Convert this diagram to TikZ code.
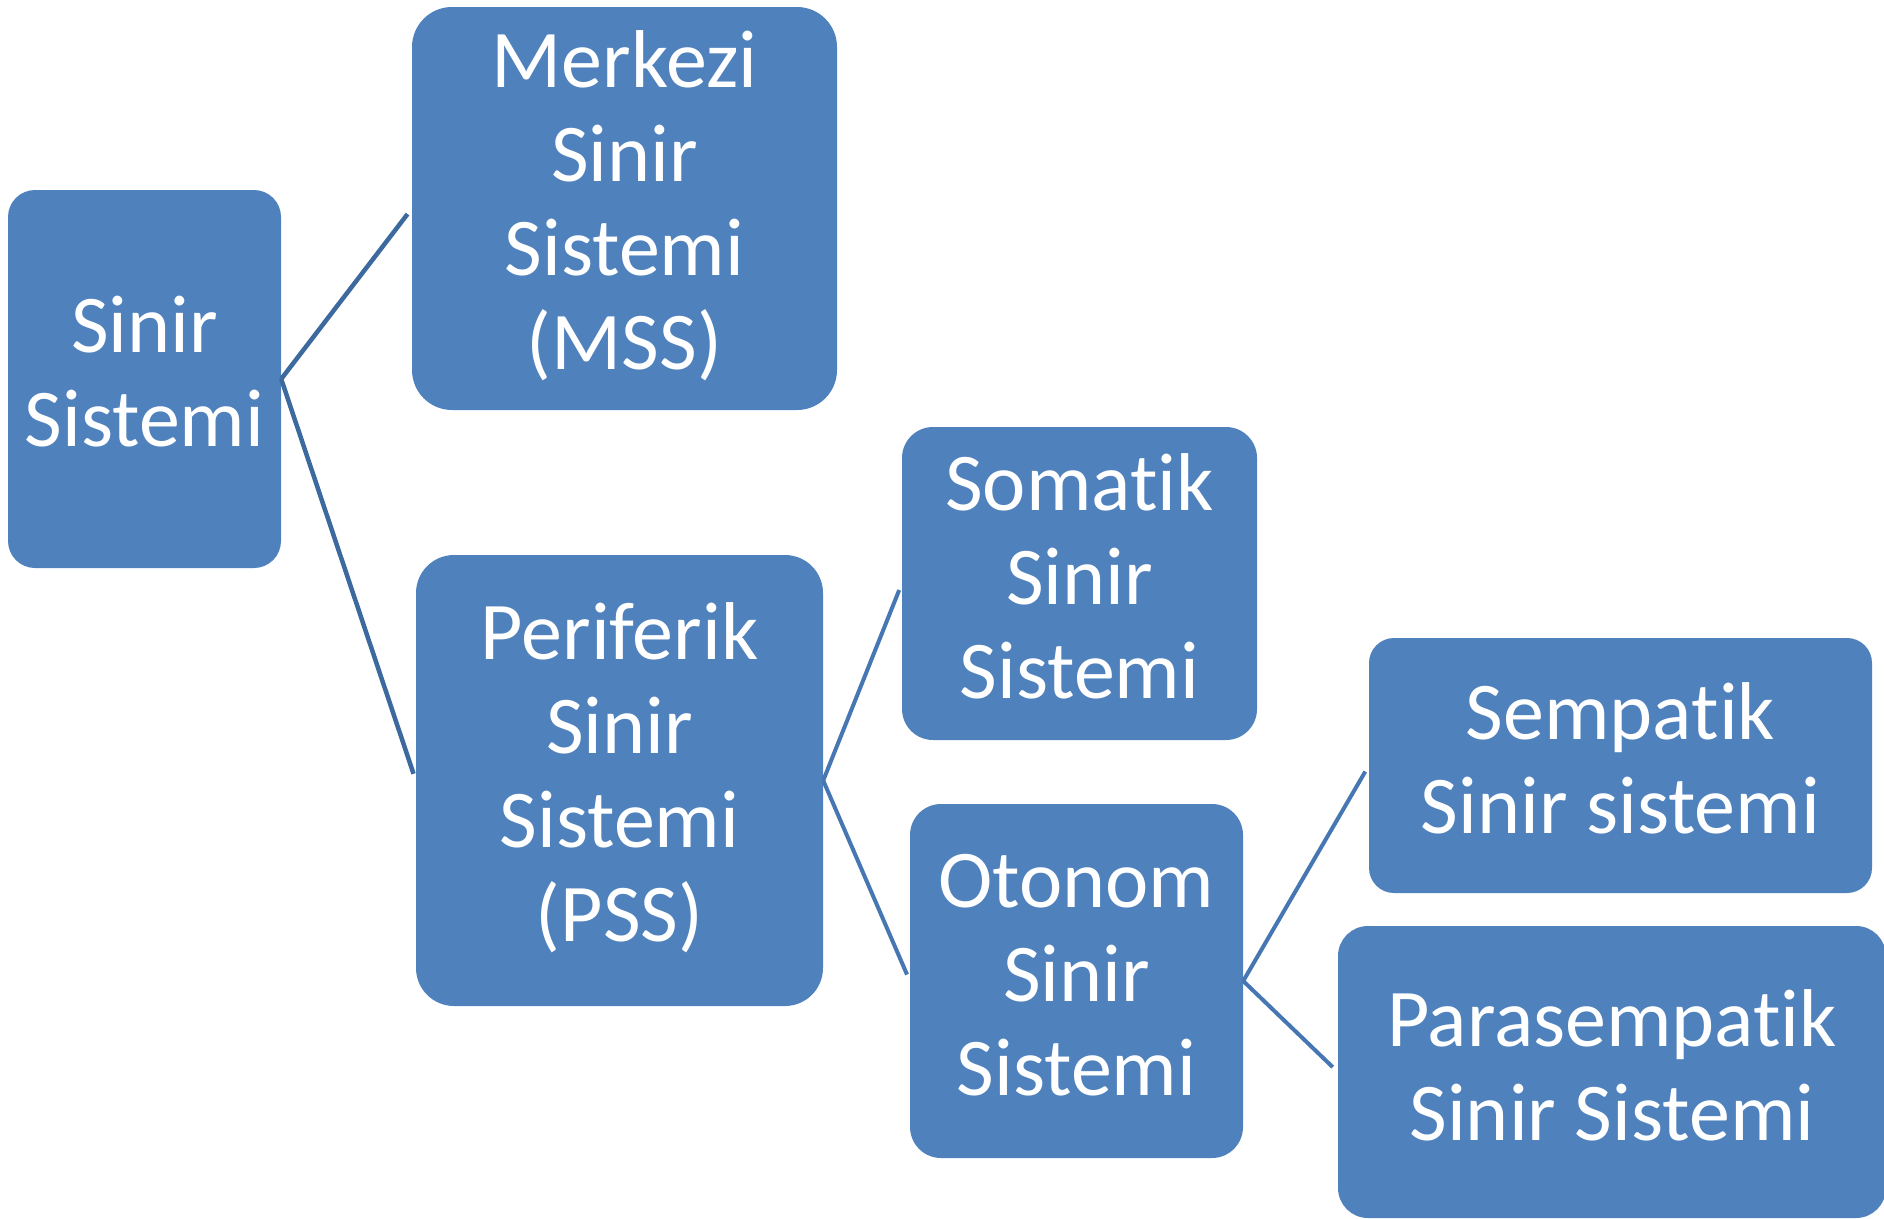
\documentclass[tikz,border=0pt]{standalone}
\usepackage{fontspec}
\setmainfont[Ligatures={NoCommon}]{Carlito}
\definecolor{boxblue}{HTML}{4F81BD}
\definecolor{lineA}{HTML}{3D6A9E}
\definecolor{lineB}{HTML}{4677B3}
\begin{document}
\begin{tikzpicture}[x=1pt,y=-1pt,
  box/.style={draw=none, fill=boxblue, inner sep=0pt},
  lbl/.style={text=white, align=center, inner sep=0pt,
    font=\fontsize{82}{94}\selectfont},
  linkA/.style={draw=lineA, line width=4.5pt, shorten >=7pt},
  linkB/.style={draw=lineB, line width=4pt, shorten >=7pt}]
\useasboundingbox (0,0) rectangle (1884,1218);
\clip (0,0) rectangle (1884,1218);
\node[box, minimum width=273pt, minimum height=378pt, rounded corners=27pt] (ss) at (144.5,379) {};
\node[box, minimum width=425pt, minimum height=403pt, rounded corners=40pt] (mss) at (624.5,208.5) {};
\node[box, minimum width=407pt, minimum height=451pt, rounded corners=38pt] (pss) at (619.5,780.5) {};
\node[box, minimum width=355pt, minimum height=313pt, rounded corners=31pt] (som) at (1079.5,583.5) {};
\node[box, minimum width=333pt, minimum height=354pt, rounded corners=31pt] (oto) at (1076.5,981) {};
\node[box, minimum width=503pt, minimum height=255pt, rounded corners=25pt] (sem) at (1620.5,765.5) {};
\node[box, minimum width=548pt, minimum height=292pt, rounded corners=30pt] (para) at (1612,1072) {};
\node[lbl] (ssT) at ([yshift=7pt]ss.center) {Sinir\\Sistemi};
\node[lbl] (mssT) at ([yshift=3pt]mss.center) {Merkezi\\Sinir\\Sistemi\\(MSS)};
\node[lbl] (pssT) at ([yshift=3pt]pss.center) {Periferik\\Sinir\\Sistemi\\(PSS)};
\node[lbl] (somT) at ([yshift=7pt]som.center) {Somatik\\Sinir\\Sistemi};
\node[lbl] (otoT) at ([yshift=6pt]oto.center) {Otonom\\Sinir\\Sistemi};
\node[lbl] (semT) at ([yshift=7pt]sem.center) {Sempatik\\Sinir sistemi};
\node[lbl] (paraT) at ([yshift=7pt]para.center) {Parasempatik\\Sinir Sistemi};
\draw[linkA] (ss.east) -- (mss.west);
\draw[linkA] (ss.east) -- (pss.west);
\draw[linkB] (pss.east) -- (som.west);
\draw[linkB] (pss.east) -- (oto.west);
\draw[linkB] (oto.east) -- (sem.west);
\draw[linkB] (oto.east) -- (para.west);
\end{tikzpicture}
\end{document}
